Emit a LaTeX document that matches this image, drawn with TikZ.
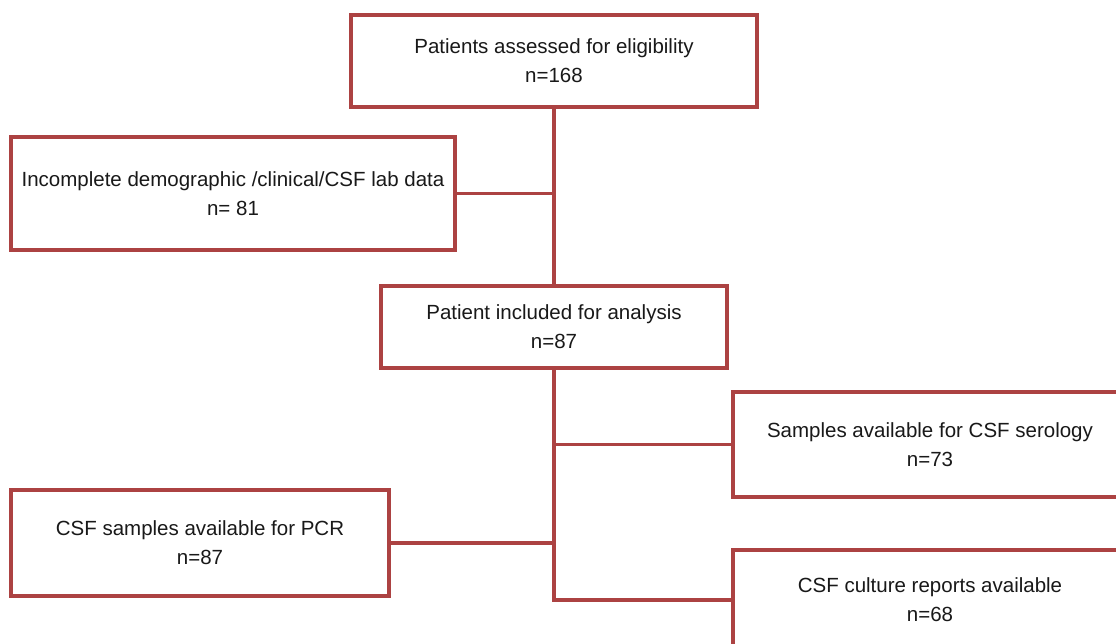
\documentclass[tikz,border=0pt]{standalone}
\usepackage{fontspec}
\setmainfont{Liberation Sans}
\definecolor{boxred}{RGB}{172,66,66}
\definecolor{txt}{RGB}{25,25,25}
\begin{document}
\begin{tikzpicture}[x=1pt,y=-1pt,
  flowbox/.style={draw=boxred,line width=3.1pt,fill=white,align=center,text=txt,
    font=\fontsize{20.5}{29}\selectfont,inner sep=0pt},
  conn/.style={draw=boxred,line width=3.1pt}]
\useasboundingbox (0,0) rectangle (1116,644);
\clip (0,0) rectangle (1116,644);
\node[flowbox,minimum width=406pt,minimum height=92pt] (top) at (554,61) {Patients assessed for eligibility\\n=168};
\node[flowbox,minimum width=444pt,minimum height=113pt] (excl) at (233,193.5) {Incomplete demographic /clinical/CSF lab data\\n= 81};
\node[flowbox,minimum width=346pt,minimum height=82pt] (mid) at (554,327) {Patient included for analysis\\n=87};
\node[flowbox,minimum width=394pt,minimum height=105pt] (sero) at (930,444.5) {Samples available for CSF serology\\n=73};
\node[flowbox,minimum width=378pt,minimum height=106pt] (pcr) at (200,543) {CSF samples available for PCR\\n=87};
\node[flowbox,minimum width=394pt,minimum height=100pt] (cult) at (930,600) {CSF culture reports available\\n=68};
\draw[conn] (top.south) -- (mid.north);
\draw[conn] (excl.east) -- (excl.east -| top.south);
\coordinate (trunkend) at (mid.south |- cult.west);
\draw[conn] (mid.south) -- (trunkend) -- (cult.west);
\draw[conn] (sero.west) -- (sero.west -| mid.south);
\draw[conn] (pcr.east) -- (pcr.east -| mid.south);
\end{tikzpicture}
\end{document}
